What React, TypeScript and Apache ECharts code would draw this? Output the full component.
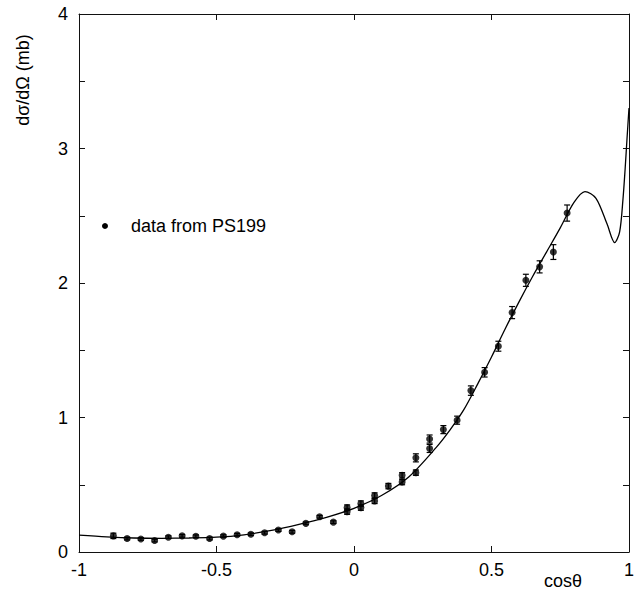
import React, { useEffect, useRef } from "react";
import * as echarts from "echarts";

// Measured points (cosθ, dσ/dΩ in mb) with error half-widths
const dataX = [-0.875, -0.825, -0.775, -0.725, -0.675, -0.625, -0.575, -0.525, -0.475, -0.425, -0.375, -0.325, -0.275, -0.225, -0.175, -0.125, -0.075, -0.025, -0.025, 0.025, 0.025, 0.075, 0.075, 0.125, 0.175, 0.175, 0.225, 0.225, 0.275, 0.275, 0.325, 0.375, 0.425, 0.475, 0.525, 0.575, 0.625, 0.675, 0.725, 0.775];
const dataY = [0.12, 0.10, 0.097, 0.085, 0.11, 0.12, 0.117, 0.10, 0.118, 0.128, 0.132, 0.143, 0.163, 0.15, 0.213, 0.262, 0.222, 0.30, 0.33, 0.33, 0.36, 0.38, 0.42, 0.49, 0.52, 0.57, 0.59, 0.70, 0.77, 0.84, 0.91, 0.98, 1.20, 1.336, 1.53, 1.78, 2.02, 2.12, 2.23, 2.52];
const dataErr = [0.02, 0.01, 0.01, 0.01, 0.01, 0.01, 0.01, 0.01, 0.01, 0.01, 0.01, 0.01, 0.01, 0.01, 0.01, 0.01, 0.01, 0.02, 0.02, 0.02, 0.02, 0.02, 0.02, 0.02, 0.02, 0.02, 0.02, 0.03, 0.03, 0.03, 0.03, 0.03, 0.035, 0.035, 0.037, 0.045, 0.045, 0.045, 0.055, 0.06];

// Theory curve
const curveX = [-1, -0.9, -0.8, -0.7, -0.6, -0.5, -0.4, -0.3, -0.2, -0.1, 0, 0.1, 0.2, 0.3, 0.35, 0.4, 0.45, 0.5, 0.55, 0.6, 0.65, 0.7, 0.75, 0.8, 0.84, 0.88, 0.92, 0.948, 0.966, 0.978, 0.986, 0.993, 1.0];
const curveY = [0.125, 0.112, 0.104, 0.102, 0.104, 0.11, 0.128, 0.16, 0.205, 0.258, 0.325, 0.42, 0.56, 0.78, 0.91, 1.06, 1.25, 1.45, 1.66, 1.86, 2.05, 2.23, 2.41, 2.60, 2.68, 2.63, 2.44, 2.30, 2.38, 2.62, 2.85, 3.08, 3.3];

const legendText = "data from PS199";
const xTitle = "cosθ";
const yTitle = "dσ/dΩ (mb)";

const FONT = "'Liberation Sans', Arial, Helvetica, sans-serif";

export default function App() {
  const ref = useRef<HTMLDivElement>(null);
  useEffect(() => {
    if (!ref.current) return;
    const chart = echarts.init(ref.current, null, { renderer: "svg" });
    const axisCommon = {
      type: "value" as const,
      splitLine: { show: false },
      axisLine: { show: true, onZero: false, lineStyle: { color: "#111", width: 1 } },
      axisTick: { show: true, inside: true, length: 6, lineStyle: { color: "#111", width: 1 } },
    };
    chart.setOption({
      animation: false,
      backgroundColor: "#fff",
      grid: { left: 79, right: 5, top: 14, bottom: 38 },
      xAxis: [
        {
          ...axisCommon,
          min: -1,
          max: 1,
          interval: 0.5,
          position: "bottom",
          axisLabel: { color: "#000", fontSize: 18, fontFamily: FONT, margin: 9 },
        },
        {
          ...axisCommon,
          min: -1,
          max: 1,
          interval: 0.5,
          position: "top",
          axisLabel: { show: false },
        },
      ],
      yAxis: [
        {
          ...axisCommon,
          min: 0,
          max: 4,
          interval: 0.5,
          position: "left",
          axisLabel: {
            color: "#000",
            fontSize: 18,
            fontFamily: FONT,
            margin: 11,
            formatter: (v: number) => (Math.abs(v - Math.round(v)) < 1e-9 ? String(Math.round(v)) : ""),
          },
        },
        {
          ...axisCommon,
          min: 0,
          max: 4,
          interval: 0.5,
          position: "right",
          axisLabel: { show: false },
        },
      ],
      series: [
        {
          type: "line",
          data: curveX.map((x, i) => [x, curveY[i]]),
          smooth: 0.3,
          symbol: "none",
          clip: true,
          lineStyle: { color: "#000", width: 1.3 },
          z: 2,
        },
        {
          type: "custom",
          data: dataX.map((x, i) => [x, dataY[i] - dataErr[i], dataY[i] + dataErr[i]]),
          encode: { x: 0, y: [1, 2] },
          renderItem: (params: any, api: any) => {
            const x = api.value(0);
            const lo = api.coord([x, api.value(1)]);
            const hi = api.coord([x, api.value(2)]);
            const cw = 3;
            const st = { stroke: "#000", lineWidth: 1.2 };
            return {
              type: "group",
              children: [
                { type: "line", shape: { x1: lo[0], y1: lo[1], x2: hi[0], y2: hi[1] }, style: st },
                { type: "line", shape: { x1: hi[0] - cw, y1: hi[1], x2: hi[0] + cw, y2: hi[1] }, style: st },
                { type: "line", shape: { x1: lo[0] - cw, y1: lo[1], x2: lo[0] + cw, y2: lo[1] }, style: st },
              ],
            };
          },
          z: 3,
        },
        {
          type: "scatter",
          data: dataX.map((x, i) => [x, dataY[i]]),
          symbol: "circle",
          symbolSize: 7,
          itemStyle: { color: "#000" },
          z: 4,
        },
      ],
      graphic: [
        { type: "circle", shape: { cx: 105, cy: 226, r: 3 }, style: { fill: "#000" } },
        {
          type: "text",
          x: 131,
          y: 226,
          style: { text: legendText, font: `18px ${FONT}`, fill: "#000", textAlign: "left", textVerticalAlign: "middle" },
        },
        {
          type: "text",
          x: 563,
          y: 581,
          style: { text: xTitle, font: `18px ${FONT}`, fill: "#000", textAlign: "center", textVerticalAlign: "middle" },
        },
        {
          type: "text",
          x: 23,
          y: 80,
          rotation: Math.PI / 2,
          style: { text: yTitle, font: `18px ${FONT}`, fill: "#000", textAlign: "center", textVerticalAlign: "middle" },
        },
      ],
    });
    return () => chart.dispose();
  }, []);
  return <div ref={ref} style={{ position: "fixed", left: 0, top: 0, width: 637, height: 590 }} />;
}
